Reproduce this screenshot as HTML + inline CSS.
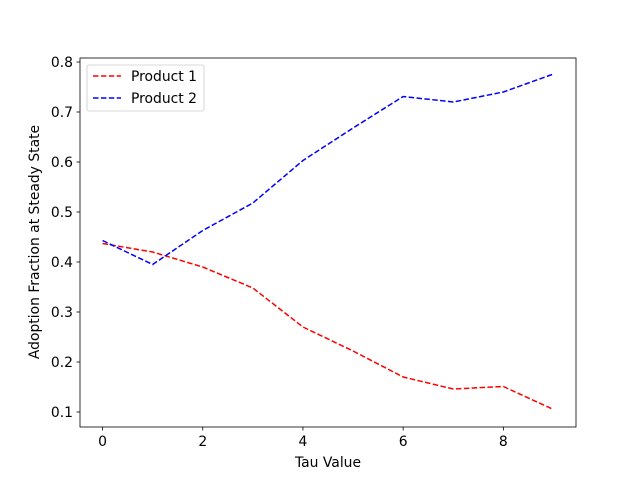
<!DOCTYPE html>
<html><head><meta charset="utf-8"><style>body{margin:0;background:#fff}svg{display:block;font-family:"DejaVu Sans","Liberation Sans",sans-serif}</style></head>
<body>
<svg id="chart" width="640" height="480"></svg>
<script>
const categories=[0,1,2,3,4,5,6,7,8,9];
const product1=[0.437,0.42,0.39,0.348,0.27,0.222,0.17,0.146,0.151,0.105];
const product2=[0.443,0.395,0.463,0.518,0.603,0.668,0.731,0.72,0.74,0.776];
const xTicks=[0,2,4,6,8];
const yTicks=[0.1,0.2,0.3,0.4,0.5,0.6,0.7,0.8];
const L=80,R=576,T=58,B=427,FS=13.9;
const xs=v=>L+(v+0.45)/9.9*(R-L);
const ys=v=>412-(v-0.1)*500;
const svg=document.getElementById('chart');const NS='http://www.w3.org/2000/svg';
function mk(t,a,p){const e=document.createElementNS(NS,t);for(const k in a)e.setAttribute(k,a[k]);(p||svg).appendChild(e);return e;}
function series(d,c,n){const e=mk('polyline',{points:d.map((v,i)=>xs(categories[i])+','+ys(v)).join(' '),fill:'none',stroke:c,'stroke-width':1.5,'stroke-dasharray':'5.5,2.4'});

}
series(product1,'#ff0000','product-1-line');
series(product2,'#0000ff','product-2-line');
const fr=mk('rect',{x:L,y:T,width:R-L,height:B-T,fill:'none',stroke:'#000','stroke-width':0.8});


xTicks.forEach(v=>{const x=xs(v);mk('line',{x1:x,x2:x,y1:B,y2:B+3.5,stroke:'#000','stroke-width':0.8});
const t=mk('text',{x:x,y:B+19,'font-size':FS,'text-anchor':'middle'});t.textContent=v;

});
yTicks.forEach(v=>{const y=ys(v);mk('line',{x1:L,x2:L-3.5,y1:y,y2:y,stroke:'#000','stroke-width':0.8});
const t=mk('text',{x:L-7,y:y+5,'font-size':FS,'text-anchor':'end'});t.textContent=v.toFixed(1);

});
const xt=mk('text',{x:328,y:467,'font-size':FS,'text-anchor':'middle'});xt.textContent='Tau Value';


const yt=mk('text',{x:0,y:0,'font-size':FS,'text-anchor':'middle',transform:'translate(39,242) rotate(-90)'});yt.textContent='Adoption Fraction at Steady State';


const lg=mk('g',{});


mk('rect',{x:87,y:65,width:117,height:46,rx:2,fill:'#fff',stroke:'#ccc','stroke-width':0.8},lg);
[['Product 1','#ff0000',76],['Product 2','#0000ff',98]].forEach(([n,c,y])=>{
mk('line',{x1:93,x2:121,y1:y,y2:y,stroke:c,'stroke-width':1.5,'stroke-dasharray':'5.5,2.4'},lg);
const t=mk('text',{x:131,y:y+5,'font-size':FS},lg);t.textContent=n;

});
</script>
</body></html>
